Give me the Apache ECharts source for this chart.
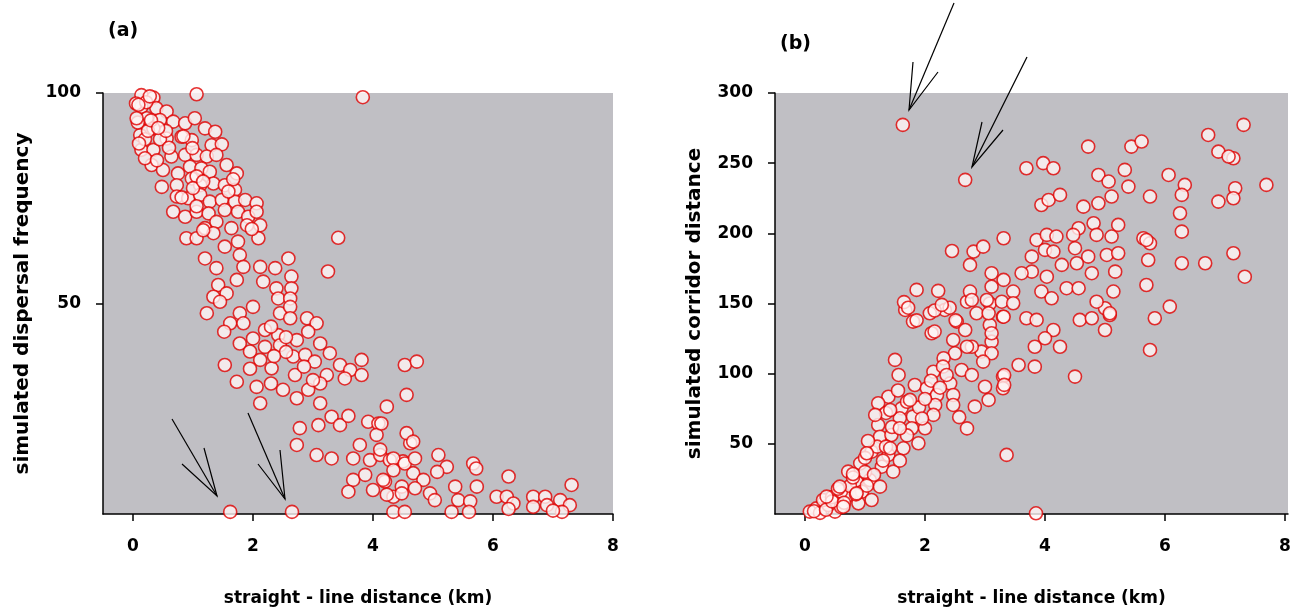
<!DOCTYPE html>
<html>
<head>
<meta charset="utf-8">
<script src="https://cdn.jsdelivr.net/npm/echarts@6/dist/echarts.min.js"></script>
<style>
  html, body { margin: 0; background: #fff; }
  #chart { width: 1297px; height: 614px; }
</style>
</head>
<body>
<div id="chart"></div>
<script>
// (a) straight-line distance (km) vs simulated dispersal frequency
const dispersalPoints = [
  [0.14,99.5],[0.34,98.9],[1.06,99.7],[0.14,96.7],[0.39,96.4],[0.56,95.6],[0.23,94.0],[0.45,93.6],
  [0.67,93.2],[0.87,92.8],[1.03,94.0],[1.2,91.6],[1.37,90.8],[0.12,90.0],[0.34,91.6],[0.56,89.2],
  [0.81,89.6],[0.98,88.8],[1.31,87.6],[1.48,87.8],[0.14,86.5],[0.34,86.5],[0.64,84.9],[0.87,85.3],
  [1.06,85.3],[1.23,84.9],[1.39,85.3],[1.56,82.9],[0.31,82.9],[0.5,81.7],[0.75,80.9],[0.95,82.5],
  [1.14,82.1],[1.28,81.3],[1.73,80.9],[0.48,77.7],[0.73,78.1],[0.98,79.7],[1.12,78.1],[1.34,78.5],
  [1.53,78.1],[1.7,77.0],[0.73,75.4],[0.92,75.0],[1.12,75.8],[1.28,74.2],[1.48,74.6],[1.7,74.2],
  [1.87,74.6],[2.06,73.8],[0.67,71.8],[0.87,70.6],[1.06,71.8],[1.26,71.4],[1.53,72.2],[1.75,71.8],
  [1.92,70.6],[2.06,71.8],[1.2,67.9],[1.39,69.4],[1.64,67.9],[1.9,68.6],[2.12,68.6],[0.89,65.5],
  [1.06,65.5],[1.34,66.7],[1.53,63.5],[1.75,64.7],[2.09,65.5],[1.78,61.5],[1.2,60.7],[1.39,58.4],
  [1.84,58.7],[2.12,58.7],[2.37,58.4],[2.59,60.7],[2.64,56.4],[1.42,54.4],[1.73,55.6],[2.17,55.2],
  [2.39,53.6],[2.64,53.6],[1.34,51.6],[1.56,52.4],[2.42,51.2],[2.62,51.2],[3.25,57.6],[3.42,65.6],
  [3.83,99.0],[0.05,97.5],[0.08,93],[0.2,89],[0.1,88],[0.25,91],[0.45,89],[0.2,84.5],[0.6,87],
  [0.4,84],[0.55,91],[0.3,93.5],[0.22,97.8],
  [0.06,94.0],[0.42,91.7],[0.84,89.7],[0.99,86.9],[1.06,80.2],[1.0,77.4],[1.17,79.0],[1.67,79.5],
  [1.59,76.6],[0.81,75.2],[1.06,73.1],[1.17,67.4],[1.98,67.7],[0.28,99.2],[0.09,97.2],
  [1.23,47.7],[1.45,50.4],[1.78,47.7],[2.0,49.2],[2.45,47.7],[2.62,49.2],[1.62,45.3],[1.84,45.3],
  [1.52,43.3],[2.2,43.7],[2.42,42.5],[2.62,46.5],[2.9,46.5],[3.06,45.3],[1.78,40.5],[2.0,41.7],
  [1.95,38.6],[2.2,39.7],[2.45,40.1],[2.73,41.3],[2.92,43.3],[3.12,40.5],[2.12,36.6],[2.31,34.6],
  [2.67,37.4],[2.87,37.8],[3.03,36.2],[3.28,38.2],[3.45,35.4],[3.62,34.2],[3.81,36.6],[3.81,33.0],
  [3.53,32.2],[3.23,33.0],[1.53,35.4],[1.73,31.4],[2.06,30.2],[2.3,31.0],[2.5,29.5],[2.12,26.3],
  [2.73,27.5],[2.92,29.5],[3.12,26.3],[3.12,31.0],[3.0,31.8],[4.23,25.5],[4.56,28.3],[4.53,35.4],
  [4.73,36.2],[2.78,20.4],[2.73,16.4],[3.09,21.1],[3.31,23.1],[3.45,21.1],[3.59,23.3],[3.06,14.0],
  [3.31,13.2],[3.92,21.9],[4.09,21.5],[4.06,18.8],[3.78,16.4],[3.67,13.2],[3.95,12.8],[4.12,14.0],
  [4.28,12.8],[3.67,8.1],[3.87,9.3],[3.59,5.3],[4.0,5.7],[4.2,7.7],[4.34,4.1],[4.5,12.5],
  [4.62,16.8],[4.56,19.2],[4.67,9.7],[4.48,6.5],[1.62,0.5],[2.65,0.5],[4.34,0.5],[4.53,0.5],
  [2.3,44.5],[2.55,38.5],[2.7,33],[2.35,37.5],[1.95,34.5],[2.85,35],[2.55,42],
  [4.14,21.5],[4.67,17.2],[4.12,15.3],[4.34,13.2],[4.53,12.0],[4.7,13.2],[5.09,14.0],[5.23,11.2],
  [5.07,10.0],[4.84,8.1],[4.17,8.1],[4.34,10.4],[4.48,4.9],[4.23,4.6],[4.7,6.1],[4.95,4.9],
  [5.03,3.3],[5.42,3.3],[5.37,6.5],[5.62,3.0],[5.67,12.0],[5.72,10.8],[5.73,6.5],[5.6,0.5],
  [5.31,0.5],[6.06,4.1],[6.26,8.9],[6.23,4.1],[6.34,2.5],[6.26,1.2],[6.67,4.1],[6.87,4.1],
  [6.9,2.1],[6.67,1.7],[7.12,3.3],[7.28,2.1],[7.15,0.5],[7.0,0.8],[7.31,6.9]
];

// (b) straight-line distance (km) vs simulated corridor distance
const corridorPoints = [
  [1.67,145.4],[1.8,137.1],[2.08,143.0],[2.33,145.4],[2.53,137.1],[2.7,151.3],[3.08,150],[3.3,140.6],
  [2.11,128.8],[2.47,124.0],[2.67,131.1],[3.08,134.7],[3.11,122.8],[2.94,115.7],[2.78,119.2],[2.5,114.5],
  [2.31,111.0],[2.14,101.4],[2.61,102.6],[2.78,99.1],[3.0,90.7],[3.06,81.3],[2.83,76.5],[3.3,97.9],
  [3.3,89.6],[1.5,109.8],[1.56,99.1],[1.83,91.9],[2.03,89.6],[2.2,84.8],[2.42,93.1],[2.47,84.8],
  [2.47,77.7],[2.17,77.7],[2.14,70.6],[2.0,61.1],[1.8,69.4],[1.61,75.3],[1.39,83.6],[1.22,78.9],
  [1.58,68.2],[1.22,63.4],[1.78,61.1],[1.25,55.1],[1.44,56.3],[1.89,50.4],[1.64,46.8],[1.39,42.1],
  [1.11,44.4],[0.92,36.1],[1.28,33.7],[1.47,30.2],[1.08,24.2],[0.86,23.0],[0.72,30.2],[1.25,19.5],
  [0.95,15.9],[0.69,12.4],[0.53,11.2],[0.31,7.6],[0.19,4.0],[0.08,1.7],[0.5,1.7],[0.89,7.6],
  [1.11,10.0],[0.25,0.8],[0.39,6.4],[3.36,42.1],
  [0.3,10],[0.45,12],[0.6,16],[0.75,20],[0.8,26],[1.0,30],[1.0,40],[1.2,48],[1.3,38],[1.45,62],
  [1.55,88],[1.7,80],[1.9,76],[2.0,82],[2.1,95],[2.3,105],[1.35,72],[1.15,28],[0.6,5],[0.15,2],
  [0.35,3],[0.45,9],[0.55,18],[0.65,8],[1.05,52],[1.7,56],[1.95,68],[2.25,90],[1.35,48],[0.85,14],
  [2.7,61],[2.57,69],[3.32,99],[3.32,92],[1.86,159.7],[2.22,159],[2.45,187.4],[1.65,151],[1.72,147],
  [1.86,138],[2.16,145],[2.41,147],[2.51,138],[2.16,130],[3.11,128.8],[2.7,119.2],[3.11,114.5],
  [1.63,277.3],[3.85,0.5],
  [2.28,149],[2.86,143],[2.97,108.6],[2.36,99.1],[1.75,81.3],[1.42,74.1],[1.58,61.1],[1.17,70.6],
  [1.03,43.3],[1.42,46.8],[1.58,38.0],[0.8,28.5],[1.03,20.2],[0.58,19.5],[0.36,12.4],[0.86,14.7],
  [0.64,5.2],
  [2.67,238.1],[3.69,246.4],[3.97,250.0],[4.14,246.4],[4.72,261.8],[5.44,261.8],[5.61,265.4],[6.06,241.6],
  [4.89,241.6],[5.06,236.9],[5.33,245.2],[5.39,233.3],[5.75,226.2],[3.94,220.2],[4.06,223.8],[4.25,227.4],
  [4.64,219.0],[4.89,221.4],[5.11,226.2],[4.81,207.2],[5.22,206.0],[4.56,203.6],[3.31,196.5],[3.86,195.3],
  [4.03,198.9],[4.19,197.7],[4.47,198.9],[4.86,198.9],[5.11,197.7],[5.64,196.5],[5.75,192.9],[2.81,187.0],
  [2.97,190.5],[2.75,177.5],[3.78,183.4],[4.0,188.2],[4.14,187.0],[4.5,189.4],[4.72,183.4],[5.03,184.6],
  [5.22,185.8],[5.72,181.0],[3.78,172.7],[4.03,169.1],[4.28,177.5],[4.53,178.7],[4.78,171.6],[5.17,172.7],
  [3.11,171.6],[3.31,166.8],[3.61,171.6],[3.11,162.0],[3.47,158.5],[3.94,158.5],[4.11,153.7],[4.36,160.9],
  [4.56,160.9],[5.14,158.5],[2.75,158.5],[2.78,152.5],[3.03,152.5],[3.06,143.0],[3.28,151.3],[3.47,150.2],
  [3.31,140.6],[3.69,139.5],[3.86,138.3],[4.14,131.1],[4.0,125.2],[4.25,119.2],[3.83,119.2],[3.56,106.2],
  [3.83,105.0],[4.5,97.9],[4.58,138.3],[4.78,139.5],[5.0,146.6],[5.08,141.8],[5.0,131.1],[4.86,151.3],
  [5.69,163.2],[6.08,147.8],[5.83,139.5],[5.75,116.9],
  [7.31,277.3],[6.72,270.1],[6.89,258.2],[7.14,253.5],[7.06,254.7],[7.69,234.5],[7.17,232.1],[7.14,225.0],
  [6.89,222.6],[6.33,234.5],[6.28,227.4],[6.25,214.3],[6.28,201.2],[5.69,195.3],[6.67,178.7],[7.14,185.8],
  [7.33,169.1],[5.08,143.0],[6.28,178.7]
];

const xTicks = [0, 2, 4, 6, 8];
const yTicksA = [50, 100];
const yTicksB = [50, 100, 150, 200, 250, 300];

const FONT = 'DejaVu Sans';
const plotBg = '#c0bfc4';

function xAxisFor(gridIndex, max) {
  return {
    gridIndex: gridIndex,
    type: 'value',
    min: -0.5,
    max: max,
    name: 'straight - line distance (km)',
    nameLocation: 'middle',
    nameGap: 76,
    nameTextStyle: { fontFamily: FONT, fontWeight: 'bold', fontSize: 17, color: '#000' },
    splitLine: { show: false },
    axisLine: { show: true, onZero: false, lineStyle: { color: '#000', width: 1.5 } },
    axisTick: { show: true, customValues: xTicks, length: 7, lineStyle: { color: '#000', width: 1.5 } },
    axisLabel: { customValues: xTicks, margin: 24, fontFamily: FONT, fontWeight: 'bold', fontSize: 17, color: '#000' }
  };
}

function yAxisFor(gridIndex, max, ticks, title) {
  return {
    gridIndex: gridIndex,
    type: 'value',
    min: 0,
    max: max,
    name: title,
    nameLocation: 'middle',
    nameGap: 70,
    nameTextStyle: { fontFamily: FONT, fontWeight: 'bold', fontSize: 20, color: '#000' },
    splitLine: { show: false },
    axisLine: { show: true, onZero: false, lineStyle: { color: '#000', width: 1.5 } },
    axisTick: { show: true, customValues: ticks, length: 7, lineStyle: { color: '#000', width: 1.5 } },
    axisLabel: { customValues: ticks, margin: 22, fontFamily: FONT, fontWeight: 'bold', fontSize: 17, color: '#000' }
  };
}

const pointStyle = {
  color: '#fff5f5',
  borderColor: '#e00000',
  borderWidth: 1.6
};

// arrow annotations (open arrowheads), pixel positions
function arrow(x1, y1, x2, y2, b1, b2) {
  const ls = { stroke: '#000', lineWidth: 1.2 };
  return {
    type: 'group',
    children: [
      { type: 'polyline', shape: { points: [[x1, y1], [x2, y2]] }, style: ls },
      { type: 'polyline', shape: { points: [b1, [x2, y2], b2] }, style: ls }
    ]
  };
}

const chart = echarts.init(document.getElementById('chart'));

const options = {
  backgroundColor: '#fff',
  animation: false,
  grid: [
    { left: 103, top: 93, width: 510, height: 421, show: true, backgroundColor: plotBg, borderWidth: 0 },
    { left: 775, top: 93, width: 513, height: 421, show: true, backgroundColor: plotBg, borderWidth: 0 }
  ],
  xAxis: [xAxisFor(0, 8), xAxisFor(1, 8.05)],
  yAxis: [
    yAxisFor(0, 100, yTicksA, 'simulated dispersal frequency'),
    yAxisFor(1, 300, yTicksB, 'simulated corridor distance')
  ],
  series: [
    {
      type: 'scatter',
      xAxisIndex: 0,
      yAxisIndex: 0,
      data: dispersalPoints,
      symbolSize: 13,
      clip: false,
      itemStyle: pointStyle
    },
    {
      type: 'scatter',
      xAxisIndex: 1,
      yAxisIndex: 1,
      data: corridorPoints,
      symbolSize: 13,
      clip: false,
      itemStyle: pointStyle
    }
  ],
  graphic: [
    { type: 'text', left: 108, top: 22, style: { text: '(a)', fontFamily: FONT, fontWeight: 'bold', fontSize: 19, fill: '#000' } },
    { type: 'text', left: 780, top: 35, style: { text: '(b)', fontFamily: FONT, fontWeight: 'bold', fontSize: 19, fill: '#000' } },
    arrow(172, 419, 217, 496, [182, 464], [204, 448]),
    arrow(248, 413, 285, 499, [258, 464], [280, 450]),
    arrow(954, 3, 909, 110, [913, 62], [938, 72]),
    arrow(1027, 57, 972, 167, [982, 122], [1003, 130])
  ]
};

chart.setOption(options);
</script>
</body>
</html>
